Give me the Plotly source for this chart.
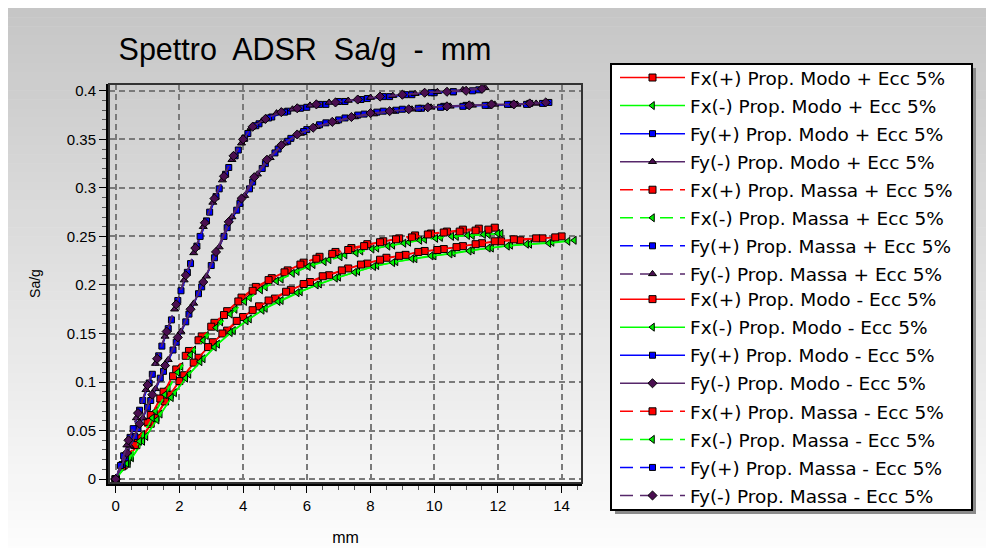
import plotly.graph_objects as go

# ---------------- data ----------------
names = [
    "Fx(+) Prop. Modo + Ecc 5%", "Fx(-) Prop. Modo + Ecc 5%",
    "Fy(+) Prop. Modo + Ecc 5%", "Fy(-) Prop. Modo + Ecc 5%",
    "Fx(+) Prop. Massa + Ecc 5%", "Fx(-) Prop. Massa + Ecc 5%",
    "Fy(+) Prop. Massa + Ecc 5%", "Fy(-) Prop. Massa + Ecc 5%",
    "Fx(+) Prop. Modo - Ecc 5%", "Fx(-) Prop. Modo - Ecc 5%",
    "Fy(+) Prop. Modo - Ecc 5%", "Fy(-) Prop. Modo - Ecc 5%",
    "Fx(+) Prop. Massa - Ecc 5%", "Fx(-) Prop. Massa - Ecc 5%",
    "Fy(+) Prop. Massa - Ecc 5%", "Fy(-) Prop. Massa - Ecc 5%",
]

x01 = [0, 0.35, 0.8, 1.25, 1.7, 2.15, 2.6, 3.05, 3.5, 4.0, 4.5, 5.0, 5.5, 6.1, 6.7, 7.3, 7.9, 8.5, 9.1, 9.7, 10.3, 10.9, 11.5, 12.1, 12.7, 13.4, 14.0]
y01 = [0, 0.019, 0.041, 0.063, 0.087, 0.107, 0.125, 0.141, 0.153, 0.167, 0.178, 0.186, 0.195, 0.203, 0.21, 0.217, 0.222, 0.228, 0.231, 0.235, 0.237, 0.24, 0.243, 0.245, 0.246, 0.248, 0.25]
x02 = [0, 0.5, 0.95, 1.4, 1.85, 2.3, 2.75, 3.2, 3.7, 4.2, 4.7, 5.2, 5.8, 6.4, 7.0, 7.6, 8.2, 8.8, 9.4, 10.0, 10.6, 11.2, 11.8, 12.4, 13.0, 13.7, 14.4]
y02 = [0, 0.022, 0.044, 0.067, 0.089, 0.108, 0.124, 0.139, 0.153, 0.165, 0.176, 0.184, 0.193, 0.201, 0.208, 0.214, 0.22, 0.224, 0.227, 0.23, 0.233, 0.236, 0.238, 0.241, 0.242, 0.244, 0.246]
x03 = [0, 0.3, 0.7, 1.1, 1.5, 1.9, 2.3, 2.7, 3.1, 3.5, 3.9, 4.3, 4.7, 5.1, 5.5, 6.0, 6.6, 7.2, 7.8, 8.4, 9.0, 9.6, 10.3, 11.0, 11.7, 12.4, 13.0, 13.6]
y03 = [0, 0.022, 0.052, 0.081, 0.111, 0.141, 0.17, 0.198, 0.228, 0.259, 0.284, 0.306, 0.325, 0.34, 0.351, 0.36, 0.367, 0.372, 0.376, 0.379, 0.381, 0.382, 0.384, 0.385, 0.385, 0.386, 0.387, 0.388]
x04 = [0, 0.45, 0.85, 1.25, 1.65, 2.05, 2.45, 2.85, 3.25, 3.65, 4.05, 4.45, 4.85, 5.3, 5.8, 6.3, 6.9, 7.5, 8.1, 8.7, 9.3, 9.9, 10.5, 11.2, 11.9, 12.6, 13.2]
y04 = [0, 0.034, 0.063, 0.093, 0.123, 0.152, 0.181, 0.209, 0.239, 0.27, 0.292, 0.314, 0.331, 0.346, 0.356, 0.363, 0.368, 0.373, 0.376, 0.379, 0.381, 0.383, 0.384, 0.385, 0.386, 0.386, 0.387]
x05 = [0, 0.3, 0.7, 1.1, 1.5, 1.9, 2.3, 2.7, 3.1, 3.5, 3.95, 4.4, 4.9, 5.4, 5.9, 6.4, 6.9, 7.4, 7.9, 8.4, 8.9, 9.4, 9.9, 10.4, 10.9, 11.4, 11.9]
y05 = [0, 0.018, 0.042, 0.066, 0.09, 0.113, 0.132, 0.147, 0.161, 0.173, 0.187, 0.198, 0.207, 0.215, 0.223, 0.229, 0.234, 0.238, 0.242, 0.245, 0.248, 0.251, 0.253, 0.255, 0.257, 0.258, 0.259]
x06 = [0, 0.45, 0.85, 1.25, 1.65, 2.05, 2.45, 2.85, 3.3, 3.75, 4.2, 4.7, 5.2, 5.7, 6.2, 6.7, 7.2, 7.7, 8.2, 8.7, 9.2, 9.7, 10.2, 10.7, 11.2, 11.7, 12.1]
y06 = [0, 0.023, 0.046, 0.07, 0.094, 0.116, 0.133, 0.148, 0.162, 0.175, 0.187, 0.198, 0.206, 0.214, 0.221, 0.226, 0.231, 0.235, 0.238, 0.241, 0.244, 0.247, 0.249, 0.25, 0.251, 0.252, 0.253]
x07 = [0, 0.25, 0.55, 0.85, 1.15, 1.45, 1.75, 2.05, 2.35, 2.65, 2.95, 3.25, 3.55, 3.85, 4.15, 4.5, 4.9, 5.4, 6.0, 6.6, 7.2, 7.9, 8.6, 9.3, 10.0, 10.6, 11.2]
y07 = [0, 0.024, 0.052, 0.081, 0.108, 0.137, 0.164, 0.194, 0.222, 0.25, 0.275, 0.299, 0.321, 0.339, 0.356, 0.366, 0.373, 0.379, 0.383, 0.386, 0.389, 0.392, 0.394, 0.396, 0.398, 0.399, 0.4]
x08 = [0, 0.35, 0.65, 0.95, 1.25, 1.55, 1.85, 2.15, 2.45, 2.75, 3.05, 3.35, 3.65, 3.95, 4.25, 4.6, 5.05, 5.55, 6.1, 6.7, 7.3, 8.0, 8.7, 9.4, 10.1, 10.9, 11.6]
y08 = [0, 0.035, 0.063, 0.092, 0.119, 0.147, 0.175, 0.205, 0.233, 0.26, 0.285, 0.308, 0.329, 0.346, 0.362, 0.369, 0.377, 0.381, 0.385, 0.388, 0.39, 0.393, 0.395, 0.397, 0.399, 0.401, 0.403]
x09 = [0, 0.25, 0.65, 1.1, 1.55, 2.0, 2.45, 2.9, 3.35, 3.8, 4.3, 4.8, 5.35, 5.9, 6.5, 7.1, 7.7, 8.3, 8.9, 9.5, 10.1, 10.7, 11.3, 11.9, 12.5, 13.2, 13.8]
y09 = [0, 0.014, 0.035, 0.057, 0.08, 0.101, 0.12, 0.136, 0.15, 0.163, 0.174, 0.184, 0.193, 0.201, 0.209, 0.215, 0.221, 0.226, 0.23, 0.234, 0.236, 0.239, 0.242, 0.245, 0.247, 0.248, 0.249]
x10 = [0, 0.4, 0.85, 1.3, 1.75, 2.2, 2.65, 3.1, 3.6, 4.1, 4.6, 5.1, 5.7, 6.3, 6.9, 7.5, 8.1, 8.7, 9.3, 9.9, 10.5, 11.1, 11.7, 12.3, 12.9, 13.6, 14.2]
y10 = [0, 0.016, 0.039, 0.061, 0.084, 0.104, 0.121, 0.136, 0.151, 0.163, 0.174, 0.183, 0.192, 0.2, 0.207, 0.213, 0.219, 0.223, 0.227, 0.23, 0.232, 0.235, 0.238, 0.24, 0.242, 0.243, 0.245]
x11 = [0, 0.2, 0.6, 1.0, 1.4, 1.8, 2.2, 2.6, 3.0, 3.4, 3.8, 4.2, 4.6, 5.0, 5.4, 5.9, 6.4, 7.0, 7.6, 8.2, 8.8, 9.5, 10.2, 10.9, 11.6, 12.3, 12.9, 13.4]
y11 = [0, 0.015, 0.044, 0.074, 0.104, 0.133, 0.162, 0.191, 0.22, 0.25, 0.277, 0.299, 0.32, 0.336, 0.348, 0.358, 0.365, 0.37, 0.375, 0.378, 0.38, 0.382, 0.383, 0.384, 0.385, 0.386, 0.386, 0.387]
x12 = [0, 0.35, 0.75, 1.15, 1.55, 1.95, 2.35, 2.75, 3.15, 3.55, 3.95, 4.35, 4.75, 5.2, 5.7, 6.2, 6.8, 7.4, 8.0, 8.6, 9.2, 9.8, 10.4, 11.1, 11.8, 12.5, 13.0, 13.5]
y12 = [0, 0.027, 0.057, 0.087, 0.117, 0.146, 0.175, 0.203, 0.234, 0.265, 0.289, 0.311, 0.329, 0.344, 0.355, 0.362, 0.368, 0.373, 0.377, 0.379, 0.381, 0.383, 0.384, 0.385, 0.386, 0.386, 0.387, 0.388]
x13 = [0, 0.2, 0.6, 1.0, 1.4, 1.8, 2.2, 2.6, 3.0, 3.4, 3.85, 4.3, 4.8, 5.3, 5.8, 6.3, 6.8, 7.3, 7.8, 8.3, 8.8, 9.3, 9.8, 10.3, 10.8, 11.3, 11.7]
y13 = [0, 0.013, 0.035, 0.059, 0.083, 0.106, 0.127, 0.143, 0.157, 0.169, 0.183, 0.194, 0.205, 0.213, 0.221, 0.227, 0.232, 0.236, 0.24, 0.244, 0.247, 0.249, 0.252, 0.254, 0.255, 0.256, 0.257]
x14 = [0, 0.35, 0.75, 1.15, 1.55, 1.95, 2.35, 2.75, 3.15, 3.6, 4.05, 4.55, 5.05, 5.55, 6.05, 6.55, 7.05, 7.55, 8.05, 8.55, 9.05, 9.55, 10.05, 10.55, 11.05, 11.55, 12.0]
y14 = [0, 0.016, 0.039, 0.063, 0.087, 0.11, 0.128, 0.143, 0.156, 0.17, 0.183, 0.195, 0.204, 0.212, 0.219, 0.224, 0.229, 0.233, 0.237, 0.24, 0.243, 0.246, 0.248, 0.25, 0.251, 0.252, 0.253]
x15 = [0, 0.15, 0.45, 0.75, 1.05, 1.35, 1.65, 1.95, 2.25, 2.55, 2.85, 3.15, 3.45, 3.75, 4.05, 4.4, 4.8, 5.3, 5.8, 6.4, 7.0, 7.7, 8.4, 9.1, 9.9, 10.6, 11.4]
y15 = [0, 0.014, 0.043, 0.071, 0.099, 0.127, 0.155, 0.184, 0.213, 0.24, 0.266, 0.291, 0.314, 0.333, 0.351, 0.364, 0.372, 0.378, 0.382, 0.386, 0.389, 0.391, 0.394, 0.396, 0.398, 0.399, 0.401]
x16 = [0, 0.4, 0.7, 1.0, 1.3, 1.6, 1.9, 2.2, 2.5, 2.8, 3.1, 3.4, 3.7, 4.0, 4.3, 4.7, 5.2, 5.7, 6.3, 6.9, 7.6, 8.3, 9.0, 9.7, 10.4, 11.0, 11.5]
y16 = [0, 0.04, 0.068, 0.097, 0.124, 0.152, 0.18, 0.21, 0.238, 0.264, 0.289, 0.312, 0.333, 0.35, 0.363, 0.371, 0.378, 0.382, 0.386, 0.388, 0.391, 0.394, 0.396, 0.398, 0.399, 0.4, 0.402]

xs = [x01, x02, x03, x04, x05, x06, x07, x08, x09, x10, x11, x12, x13, x14, x15, x16]
ys = [y01, y02, y03, y04, y05, y06, y07, y08, y09, y10, y11, y12, y13, y14, y15, y16]

x_tick_vals = [0, 2, 4, 6, 8, 10, 12, 14]
y_tick_vals = [0, 0.05, 0.1, 0.15, 0.2, 0.25, 0.3, 0.35, 0.4]

# ---------------- styles ----------------
RED, GREEN, BLUE, PURPLE = "#ff0000", "#00ff00", "#0000ff", "#56276a"
MFILL = {RED: "#ff0000", GREEN: "#00ee00", BLUE: "#0000ff", PURPLE: "#4a0e50"}
MSIZE = {RED: 7, GREEN: 7, BLUE: 6, PURPLE: 7}
line_colors = [RED, GREEN, BLUE, PURPLE] * 4
DASH = "13px,7px"
dashes = ["solid"] * 4 + [DASH] * 4 + ["solid"] * 4 + [DASH] * 4
symbols = ["square", "triangle-left", "square", "triangle-up",
           "square", "triangle-left", "square", "triangle-up",
           "square", "triangle-left", "square", "diamond",
           "square", "triangle-left", "square", "diamond"]

W, H = 994, 548
# plot area in figure px (page body adds an 8px offset in the screenshot)
PL, PR, PT, PB = 101, 574, 76, 475


def px_x(px):
    return (px - PL) / (PR - PL)


def px_y(py):
    return (PB - py) / (PB - PT)


fig = go.Figure()
draw_order = [0, 1, 8, 9, 4, 5, 12, 13, 2, 10, 6, 14, 3, 11, 7, 15]
for i in draw_order:
    c = line_colors[i]
    fig.add_trace(go.Scatter(
        x=xs[i], y=ys[i], name=names[i], mode="lines+markers",
        legend="legend" if i < 8 else "legend2",
        legendgroup=str(i), legendrank=i + 1,
        line=dict(color=c, width=1.5, dash=dashes[i]),
        marker=dict(symbol=symbols[i], size=MSIZE[c], color=MFILL[c],
                    line=dict(color="#000000", width=1)),
    ))

shapes = []
# vertical gradient background over the whole figure
n_bands = 60
for b in range(n_bands):
    y0 = H * b / n_bands
    y1 = H * (b + 1) / n_bands + 0.5
    t = b / (n_bands - 1)
    c = int(round(198 + (253 - 198) * t))
    shapes.append(dict(type="rect", xref="paper", yref="paper", layer="below",
                       x0=px_x(-2), x1=px_x(W + 2), y0=px_y(y1), y1=px_y(y0),
                       line=dict(width=0), fillcolor=f"rgb({c},{c},{c})"))
# plot border (top / right)
shapes.append(dict(type="rect", xref="paper", yref="paper", layer="above",
                   x0=0, x1=1, y0=0, y1=1, line=dict(color="#333333", width=2)))
# legend shadow and box
LX0, LX1, LY0, LY1 = 603, 964, 56, 502
shapes.append(dict(type="rect", xref="paper", yref="paper", layer="above",
                   x0=px_x(LX0 + 4), x1=px_x(LX1 + 4), y0=px_y(LY1 + 4), y1=px_y(LY0 + 4),
                   line=dict(width=0), fillcolor="#8a8a8a"))
shapes.append(dict(type="rect", xref="paper", yref="paper", layer="above",
                   x0=px_x(LX0), x1=px_x(LX1), y0=px_y(LY1), y1=px_y(LY0),
                   line=dict(color="#000000", width=2), fillcolor="#ffffff"))

FONT = "Liberation Sans, Arial, sans-serif"
LFONT = dict(family="DejaVu Sans, sans-serif", size=18.5, color="#000000")
ROW = 27.7
LEG_TOP = LY0 - 5
leg_common = dict(xanchor="left", yanchor="top", bgcolor="rgba(0,0,0,0)", borderwidth=0,
                  tracegroupgap=1, traceorder="grouped", font=LFONT, itemwidth=65)

fig.update_layout(
    width=W, height=H, autosize=False,
    margin=dict(l=PL, r=W - PR, t=PT, b=H - PB, pad=0),
    paper_bgcolor="#f4f4f4", plot_bgcolor="rgba(0,0,0,0)",
    font=dict(family=FONT, size=15, color="#000000"),
    title=dict(text="Spettro  ADSR  Sa/g  -  mm", x=px_x(297), xref="paper", xanchor="center",
               y=1 - 41 / H, yref="container", yanchor="middle",
               font=dict(family=FONT, size=30.5, color="#000000")),
    shapes=shapes,
    showlegend=True,
    legend=dict(x=px_x(LX0 + 4), y=px_y(LEG_TOP), **leg_common),
    legend2=dict(x=px_x(LX0 + 4), y=px_y(LEG_TOP + 8 * ROW), **leg_common),
    xaxis=dict(range=[-0.21, 14.64], tickvals=x_tick_vals, ticks="outside", ticklen=7,
               tickcolor="#000000", tickwidth=1,
               minor=dict(dtick=0.5, ticks="outside", ticklen=4, tickcolor="#555555",
                          showgrid=False),
               showline=True, linecolor="#000000", linewidth=3, mirror=False,
               showgrid=True, gridcolor="#7a7a7a", gridwidth=1.5, griddash="6px,4px",
               zeroline=False,
               title=dict(text="mm", standoff=19, font=dict(family=FONT, size=16))),
    yaxis=dict(range=[-0.004, 0.407], tickvals=y_tick_vals, ticks="outside", ticklen=7,
               tickcolor="#000000", tickwidth=1,
               minor=dict(dtick=0.01, ticks="outside", ticklen=4, tickcolor="#555555",
                          showgrid=False),
               showline=True, linecolor="#000000", linewidth=3, mirror=False,
               showgrid=True, gridcolor="#7a7a7a", gridwidth=1.5, griddash="6px,4px",
               zeroline=False,
               title=dict(text="Sa/g", standoff=23, font=dict(family=FONT, size=14))),
)

fig.write_html("out.html")
